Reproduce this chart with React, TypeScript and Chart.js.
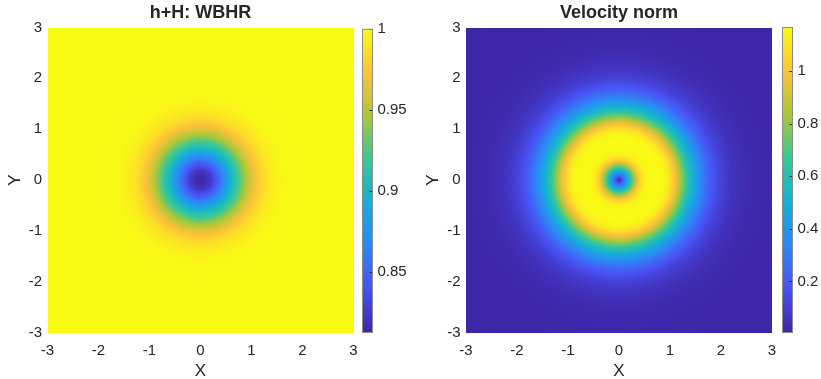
import React, { useEffect, useRef } from "react";
import { Chart, registerables } from "chart.js";

Chart.register(...registerables);

// ---- data ----
// radial sample positions (distance from origin)
const radii = [0, 0.1, 0.2, 0.3, 0.4, 0.5, 0.6, 0.7, 0.8, 0.9, 1.0, 1.1, 1.2, 1.3, 1.4, 1.5, 1.6, 1.7, 1.8, 1.9, 2.0, 2.2, 2.4, 2.6, 2.8, 3.0, 3.5, 4.3];
// h+H : WBHR along a radius
const depthProfile = [0.8127, 0.816, 0.825, 0.84, 0.858, 0.877, 0.897, 0.915, 0.931, 0.949, 0.963, 0.974, 0.983, 0.989, 0.993, 0.996, 0.998, 0.999, 0.9995, 1, 1, 1, 1, 1, 1, 1, 1, 1];
// velocity norm along a radius
const speedProfile = [0.006, 0.27, 0.55, 0.82, 1.04, 1.14, 1.158, 1.164, 1.161, 1.145, 1.09, 0.98, 0.84, 0.69, 0.56, 0.45, 0.35, 0.27, 0.2, 0.15, 0.11, 0.06, 0.035, 0.02, 0.013, 0.009, 0.007, 0.006];

const axisTicks = [-3, -2, -1, 0, 1, 2, 3];
const depthBarTicks = [0.85, 0.9, 0.95, 1];
const speedBarTicks = [0.2, 0.4, 0.6, 0.8, 1];
const depthRange = [0.8127, 1];
const speedRange = [0.006, 1.165];

const parulaStops = [
  [62, 38, 168],
  [72, 82, 244],
  [46, 135, 247],
  [18, 177, 214],
  [55, 200, 151],
  [171, 199, 57],
  [254, 195, 56],
  [249, 251, 21],
];

const FONT = "'Liberation Sans', Arial, Helvetica, sans-serif";
const TXT = "#262626";

function parula(t: number): number[] {
  const tt = Math.max(0, Math.min(1, t)) * (parulaStops.length - 1);
  const i = Math.min(parulaStops.length - 2, Math.floor(tt));
  const f = tt - i;
  const a = parulaStops[i];
  const b = parulaStops[i + 1];
  return [a[0] + (b[0] - a[0]) * f, a[1] + (b[1] - a[1]) * f, a[2] + (b[2] - a[2]) * f];
}

function profileAt(profile: number[], r: number): number {
  if (r <= radii[0]) return profile[0];
  for (let k = 1; k < radii.length; k++) {
    if (r <= radii[k]) {
      const f = (r - radii[k - 1]) / (radii[k] - radii[k - 1]);
      return profile[k - 1] + (profile[k] - profile[k - 1]) * f;
    }
  }
  return profile[profile.length - 1];
}

function makeFieldImage(profile: number[], range: number[], n: number) {
  const c = document.createElement("canvas");
  c.width = n;
  c.height = n;
  const ctx = c.getContext("2d")!;
  const img = ctx.createImageData(n, n);
  for (let j = 0; j < n; j++) {
    const y = 3 - ((j + 0.5) * 6) / n;
    for (let i = 0; i < n; i++) {
      const x = -3 + ((i + 0.5) * 6) / n;
      const v = profileAt(profile, Math.hypot(x, y));
      const col = parula((v - range[0]) / (range[1] - range[0]));
      const p = (j * n + i) * 4;
      img.data[p] = col[0];
      img.data[p + 1] = col[1];
      img.data[p + 2] = col[2];
      img.data[p + 3] = 255;
    }
  }
  ctx.putImageData(img, 0, 0);
  return c;
}

function fieldPlugin(profile: number[], range: number[]) {
  const image = makeFieldImage(profile, range, 240);
  return {
    id: "fieldImage",
    beforeDatasetsDraw(chart: any) {
      const { x, y } = chart.scales;
      const x0 = x.getPixelForValue(-3);
      const x1 = x.getPixelForValue(3);
      const y0 = y.getPixelForValue(3);
      const y1 = y.getPixelForValue(-3);
      const ctx = chart.ctx;
      ctx.save();
      ctx.imageSmoothingEnabled = true;
      ctx.imageSmoothingQuality = "high";
      ctx.drawImage(image, x0, y0, x1 - x0, y1 - y0);
      ctx.restore();
    },
  };
}

const barPlugin = (range: number[], ticks: number[]) => ({
  id: "colorBar",
  beforeDatasetsDraw(chart: any) {
    const { left, right, top, bottom } = chart.chartArea;
    const s = chart.scales.y;
    const ctx = chart.ctx;
    ctx.save();
    for (let py = Math.floor(top); py < Math.ceil(bottom); py++) {
      const v = s.getValueForPixel(py + 0.5);
      const c = parula((v - range[0]) / (range[1] - range[0]));
      ctx.fillStyle = `rgb(${c[0] | 0},${c[1] | 0},${c[2] | 0})`;
      const yy = Math.max(top, py);
      const hh = Math.min(bottom, py + 1) - yy;
      ctx.fillRect(left, yy, right - left, hh);
    }
    ctx.strokeStyle = "#262626";
    ctx.lineWidth = 1;
    for (const t of ticks) {
      const py = Math.round(s.getPixelForValue(t)) + 0.5;
      ctx.beginPath();
      ctx.moveTo(right - 3, py);
      ctx.lineTo(right, py);
      ctx.stroke();
    }
    ctx.strokeStyle = "#8c8c8c";
    ctx.strokeRect(left, top, right - left, bottom - top);
    ctx.restore();
  },
});

const fmt = (v: any) => String(+Number(v).toFixed(4));

function makePanel(canvas: HTMLCanvasElement, title: string, profile: number[], range: number[], yAxisWidth: number, padRight: number) {
  return new Chart(canvas, {
    type: "scatter",
    data: { datasets: [] },
    options: {
      animation: false,
      responsive: false,
      maintainAspectRatio: false,
      events: [],
      layout: { padding: { left: 0, right: padRight, top: 0, bottom: 0 } },
      plugins: {
        legend: { display: false },
        tooltip: { enabled: false },
        title: {
          display: true,
          text: title,
          fullSize: false,
          color: TXT,
          font: { family: FONT, size: 18, weight: "bold", lineHeight: 1.2 },
          padding: { top: 2.5, bottom: 3.4 },
        },
      },
      scales: {
        x: {
          type: "linear",
          min: -3,
          max: 3,
          grid: { display: false, drawTicks: false },
          border: { display: false },
          afterBuildTicks: (s: any) => {
            s.ticks = axisTicks.map((v) => ({ value: v }));
          },
          afterFit: (s: any) => {
            s.height = 46.5;
            s.paddingLeft = 0;
            s.paddingRight = 0;
          },
          ticks: { color: TXT, font: { family: FONT, size: 15 }, padding: 9, maxRotation: 0, callback: fmt },
          title: { display: true, text: "X", color: TXT, font: { family: FONT, size: 17, lineHeight: 0.8 }, padding: { top: 0, bottom: 0.7 } },
        },
        y: {
          type: "linear",
          min: -3,
          max: 3,
          grid: { display: false, drawTicks: false },
          border: { display: false },
          afterBuildTicks: (s: any) => {
            s.ticks = axisTicks.map((v) => ({ value: v }));
          },
          afterFit: (s: any) => {
            s.width = yAxisWidth;
            s.paddingTop = 0;
            s.paddingBottom = 0;
          },
          ticks: { color: TXT, font: { family: FONT, size: 15 }, padding: 5.5, callback: fmt },
          title: { display: true, text: "Y", color: TXT, font: { family: FONT, size: 17, lineHeight: 1 }, padding: { top: 6.5, bottom: 0 } },
        },
      },
    } as any,
    plugins: [fieldPlugin(profile, range)],
  });
}

function makeBar(canvas: HTMLCanvasElement, range: number[], ticks: number[], axisWidth: number, padTop: number) {
  return new Chart(canvas, {
    type: "scatter",
    data: { datasets: [] },
    options: {
      animation: false,
      responsive: false,
      maintainAspectRatio: false,
      events: [],
      layout: { padding: { left: 7.5, right: 0, top: padTop, bottom: 46.5 } },
      plugins: { legend: { display: false }, tooltip: { enabled: false }, title: { display: false } },
      scales: {
        x: { display: false },
        y: {
          type: "linear",
          position: "right",
          min: range[0],
          max: range[1],
          grid: { display: false, drawTicks: false },
          border: { display: false },
          afterBuildTicks: (s: any) => {
            s.ticks = ticks.map((v) => ({ value: v }));
          },
          afterFit: (s: any) => {
            s.width = axisWidth;
            s.paddingTop = 0;
            s.paddingBottom = 0;
          },
          ticks: { color: TXT, font: { family: FONT, size: 15 }, padding: 5, callback: fmt },
        },
      },
    } as any,
    plugins: [barPlugin(range, ticks)],
  });
}

export default function App() {
  const leftRef = useRef<HTMLCanvasElement>(null);
  const leftBarRef = useRef<HTMLCanvasElement>(null);
  const rightRef = useRef<HTMLCanvasElement>(null);
  const rightBarRef = useRef<HTMLCanvasElement>(null);

  useEffect(() => {
    const charts = [
      makePanel(leftRef.current!, "h+H: WBHR", depthProfile, depthRange, 47.5, 6.5),
      makeBar(leftBarRef.current!, depthRange, depthBarTicks, 42.5, 29.3),
      makePanel(rightRef.current!, "Velocity norm", speedProfile, speedRange, 48, 6),
      makeBar(rightBarRef.current!, speedRange, speedBarTicks, 28.5, 27.5),
    ];
    return () => charts.forEach((c) => c.destroy());
  }, []);

  const abs = (left: number, width: number): React.CSSProperties => ({
    position: "absolute",
    left,
    top: 0,
    width,
    height: 379,
  });

  return (
    <div style={{ position: "fixed", left: 0, top: 0, width: 821, height: 379, background: "#fff", overflow: "hidden" }}>
      <canvas ref={leftRef} width={360} height={379} style={abs(0, 360)} />
      <canvas ref={leftBarRef} width={60} height={379} style={abs(355, 60)} />
      <canvas ref={rightRef} width={360} height={379} style={abs(418, 360)} />
      <canvas ref={rightBarRef} width={46} height={379} style={abs(775, 46)} />
    </div>
  );
}
